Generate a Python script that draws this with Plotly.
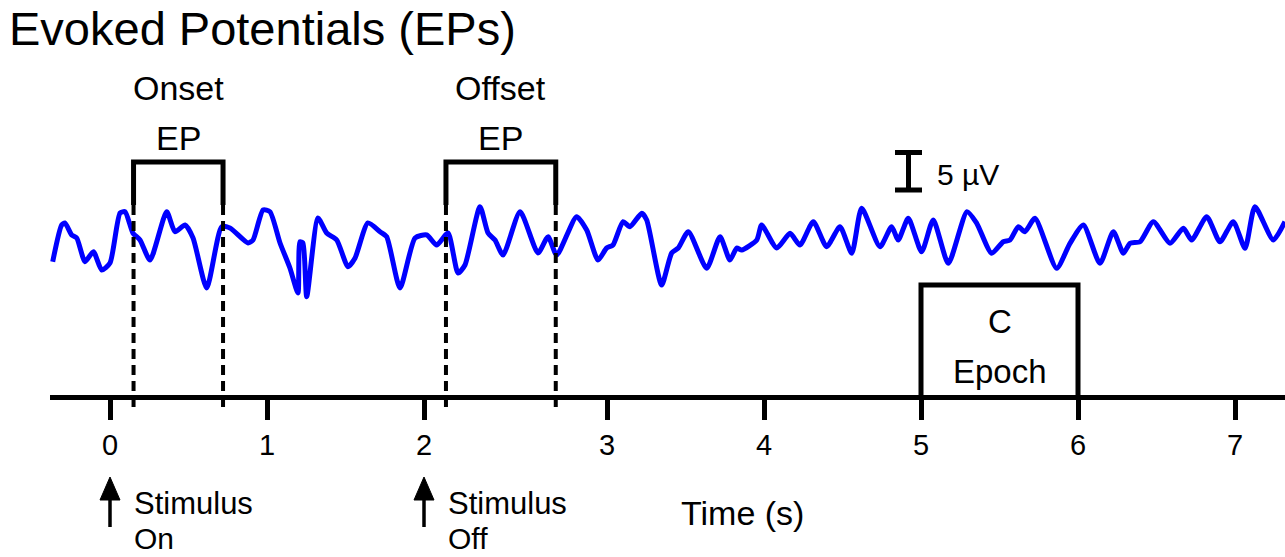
import numpy as np
import plotly.graph_objects as go

# ---- EEG trace: time (s) and amplitude (µV) ----
time_s = [
    -0.365, -0.308, -0.287, -0.244, -0.212, -0.159, -0.106, -0.053, 0.000, 0.064,
    0.096, 0.146, 0.191, 0.255, 0.361, 0.414, 0.478, 0.529, 0.616, 0.711,
    0.764, 0.879, 0.911, 0.975, 1.019, 1.083, 1.146, 1.197, 1.210, 1.229,
    1.253, 1.325, 1.380, 1.444, 1.516, 1.561, 1.643, 1.720, 1.762, 1.847,
    1.943, 2.015, 2.069, 2.131, 2.186, 2.224, 2.306, 2.350, 2.388, 2.432,
    2.525, 2.623, 2.678, 2.725, 2.834, 2.889, 2.951, 2.998, 3.038, 3.102,
    3.146, 3.221, 3.253, 3.348, 3.412, 3.454, 3.518, 3.635, 3.720, 3.783,
    3.826, 3.858, 3.954, 3.985, 4.081, 4.166, 4.229, 4.314, 4.399, 4.484,
    4.559, 4.622, 4.739, 4.813, 4.855, 4.919, 5.004, 5.078, 5.174, 5.293,
    5.355, 5.450, 5.524, 5.567, 5.620, 5.662, 5.726, 5.864, 5.949, 6.034,
    6.140, 6.225, 6.289, 6.331, 6.395, 6.480, 6.586, 6.671, 6.724, 6.820,
    6.904, 6.989, 7.064, 7.127, 7.244, 7.318,
]
amplitude_uv = [
    -2.89, 2.00, 2.27, 0.67, 0.27, -2.89, -1.56, -4.00, -3.07, 3.60,
    3.77, 0.93, 0.00, -2.67, 3.77, 1.11, 2.00, 0.27, -6.40, 1.77,
    1.60, -0.40, 0.00, 4.00, 3.77, -0.40, -3.73, -7.07, -0.23, -0.40,
    -7.56, 2.93, 0.93, 0.00, -3.56, -2.40, 2.27, 1.11, 0.44, -6.40,
    0.27, 0.67, -0.67, 0.93, -4.40, -3.33, 4.44, 0.93, 0.00, -2.00,
    3.77, -1.73, 0.44, -2.00, 3.11, 1.33, -2.67, -1.07, -0.67, 2.44,
    1.77, 3.56, 2.67, -6.00, -1.73, -1.07, 1.11, -3.77, 0.44, -2.67,
    -1.07, -1.33, 0.00, 2.00, -1.07, 0.89, -0.67, 2.44, -0.89, 1.77,
    -1.77, 4.23, -0.89, 1.77, 0.00, 2.89, -1.56, 2.67, -3.11, 3.77,
    2.23, -1.77, -0.23, 0.00, 1.77, 1.11, 2.89, -3.77, -0.44, 2.00,
    -3.11, 1.11, -1.77, -0.44, -0.23, 2.44, -0.44, 1.56, 0.00, 3.11,
    -0.23, 2.44, -1.11, 4.44, 0.00, 2.44,
]

tick_seconds = [0, 1, 2, 3, 4, 5, 6, 7]
tick_labels = ["0", "1", "2", "3", "4", "5", "6", "7"]

onset_window_s = [0.15, 0.72]
offset_window_s = [2.12, 2.72]
epoch_window_s = [5, 6]
stimulus_times_s = [0, 2]
stimulus_words = ["On", "Off"]
scale_bar_uv = 5

# ---- canvas geometry ----
W, H = 1285, 557
LEFT = 50                      # axis line starts here
PX_PER_S = 157.0
STRETCH = 183.0 / 157.0        # the 2-3 s segment is drawn wider


def disp(t):
    """Time (s) -> horizontal axis coordinate (2-3 s segment stretched)."""
    return np.interp(t, [-1, 2, 3, 8], [-1, 2, 2 + STRETCH, 7 + STRETCH])


def px_x(p):
    return (p - LEFT) / (W - LEFT)


def px_y(p):
    return 1 - p / H


X0_PX = 110.0                  # pixel column of t = 0
x_range = [(LEFT - X0_PX) / PX_PER_S, (W - X0_PX) / PX_PER_S]
UV_PX = 7.5                    # pixels per µV
BASE_PX = 240.0                # pixel row of 0 µV
y_range = [(BASE_PX - H) / UV_PX, BASE_PX / UV_PX]

AXIS_PX = 397.0
FONT = "Liberation Sans, Arial, Helvetica, sans-serif"
BLACK = "#000000"


def label(x, y, text, size, xref="x", yref="paper", xanchor="center", **kw):
    return dict(x=x, y=y, xref=xref, yref=yref, text=text, showarrow=False,
                xanchor=xanchor, yanchor="middle", font=dict(size=size), **kw)


fig = go.Figure()

fig.add_trace(go.Scatter(
    x=disp(np.array(time_s)),
    y=amplitude_uv,
    mode="lines",
    line=dict(color="#0000FF", width=5, shape="spline", smoothing=0.6),
    hoverinfo="skip",
    showlegend=False,
))

shapes = []
annotations = []

# EP windows: solid bracket on top, dashed drop lines through the axis
BR_TOP, BR_SOLID_END, BR_DASH_END = 162, 205, 413
for (a, b), top_label in zip([onset_window_s, offset_window_s], ["Onset", "Offset"]):
    xa, xb = float(disp(a)), float(disp(b))
    shapes.append(dict(
        type="path", xref="x", yref="paper",
        path=(f"M {xa},{px_y(BR_SOLID_END)} L {xa},{px_y(BR_TOP)} "
              f"L {xb},{px_y(BR_TOP)} L {xb},{px_y(BR_SOLID_END)}"),
        line=dict(color=BLACK, width=5),
    ))
    for xv in (xa, xb):
        shapes.append(dict(
            type="line", xref="x", yref="paper",
            x0=xv, x1=xv, y0=px_y(BR_SOLID_END), y1=px_y(BR_DASH_END),
            line=dict(color=BLACK, width=4, dash="10px,6px"),
        ))
    xm = (xa + xb) / 2
    annotations.append(label(xm, px_y(88), top_label, 34))
    annotations.append(label(xm, px_y(138), "EP", 34))

# C epoch box resting on the time axis
ea, eb = float(disp(epoch_window_s[0])), float(disp(epoch_window_s[1]))
shapes.append(dict(
    type="path", xref="x", yref="paper",
    path=(f"M {ea},{px_y(AXIS_PX)} L {ea},{px_y(285)} "
          f"L {eb},{px_y(285)} L {eb},{px_y(AXIS_PX)}"),
    line=dict(color=BLACK, width=5),
))
em = (ea + eb) / 2
annotations.append(label(em, px_y(321), "C", 33))
annotations.append(label(em, px_y(371), "Epoch", 33))

# amplitude scale bar
sb_x = (908.5 - X0_PX) / PX_PER_S
sb_bottom = (BASE_PX - 190) / UV_PX
sb_top = sb_bottom + scale_bar_uv
cap = 13.5 / PX_PER_S
shapes.append(dict(type="line", xref="x", yref="y", x0=sb_x, x1=sb_x,
                   y0=sb_bottom, y1=sb_top, line=dict(color=BLACK, width=5)))
for yv in (sb_bottom, sb_top):
    shapes.append(dict(type="line", xref="x", yref="y", x0=sb_x - cap, x1=sb_x + cap,
                       y0=yv, y1=yv, line=dict(color=BLACK, width=5)))
annotations.append(label(sb_x + 26 / PX_PER_S, (sb_top + sb_bottom) / 2 - 0.4,
                         f"{scale_bar_uv} µV", 30, yref="y", xanchor="left"))

# stimulus arrows under the axis
head_w = 10 / PX_PER_S
for t, word in zip(stimulus_times_s, stimulus_words):
    xs = float(disp(t))
    shapes.append(dict(type="line", xref="x", yref="paper", x0=xs, x1=xs,
                       y0=px_y(527), y1=px_y(494), line=dict(color=BLACK, width=3.5)))
    shapes.append(dict(
        type="path", xref="x", yref="paper",
        path=(f"M {xs - head_w},{px_y(500)} L {xs},{px_y(477)} "
              f"L {xs + head_w},{px_y(500)} Z"),
        fillcolor=BLACK, line=dict(color=BLACK, width=1),
    ))
    tx = xs + 22 / PX_PER_S
    annotations.append(label(tx, px_y(503), "Stimulus", 31, xanchor="left"))
    annotations.append(label(tx, px_y(538), word, 30, xanchor="left"))

annotations.append(label(px_x(742), px_y(513), "Time (s)", 34, xref="paper"))

fig.update_layout(
    width=W, height=H,
    margin=dict(l=LEFT, r=0, t=0, b=0, pad=0),
    paper_bgcolor="white", plot_bgcolor="white",
    font=dict(family=FONT, color=BLACK, size=28),
    title=dict(text="Evoked Potentials (EPs)", x=9 / W, xanchor="left",
               xref="container", yref="container", y=1 - 29 / H, yanchor="middle",
               font=dict(size=47, color=BLACK, family=FONT)),
    xaxis=dict(
        range=x_range, showgrid=False, zeroline=False,
        showline=True, linecolor=BLACK, linewidth=5,
        anchor="free", position=px_y(AXIS_PX),
        ticks="outside", ticklen=20, tickwidth=5, tickcolor=BLACK,
        tickvals=[float(v) for v in disp(tick_seconds)], ticktext=tick_labels,
        tickfont=dict(size=29, color=BLACK, family=FONT),
        fixedrange=True,
    ),
    yaxis=dict(range=y_range, visible=False, fixedrange=True),
    shapes=shapes,
    annotations=annotations,
    showlegend=False,
)

fig.write_html("out.html")
